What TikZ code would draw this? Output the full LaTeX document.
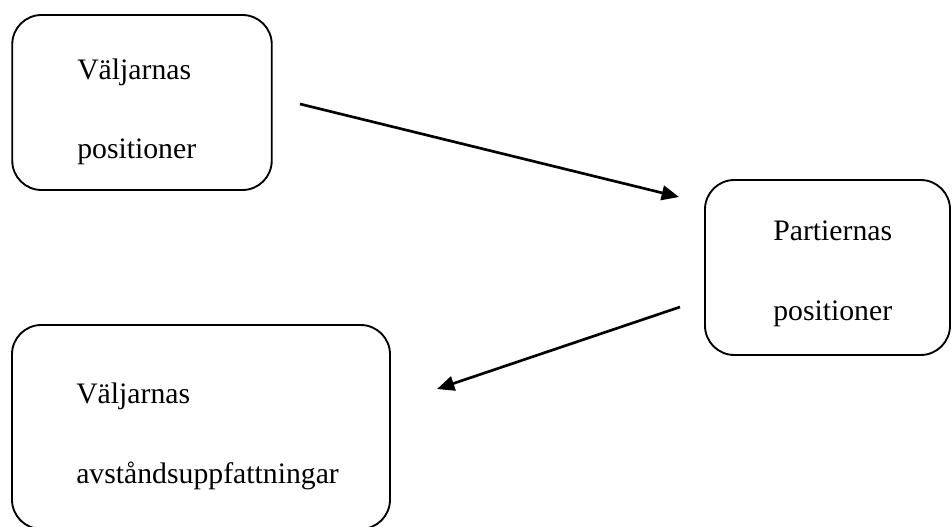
\documentclass[tikz,border=0pt]{standalone}
\usepackage{fontspec}
\setmainfont{Liberation Serif}
\usetikzlibrary{arrows.meta}
\begin{document}
\begin{tikzpicture}[x=0.75pt,y=-0.75pt,
  box/.style={draw,line width=1.4pt,rounded corners=22pt,inner sep=0pt},
  lbl/.style={anchor=base west,inner sep=0pt,font=\fontsize{22.3pt}{26pt}\selectfont},
  arr/.style={line width=2pt,-{Triangle[length=13pt,width=11pt]}}]
\useasboundingbox (0,0) rectangle (952,527);
\begin{scope}
\clip (0,0) rectangle (952,527);
\node[box,minimum width=259.5*0.75pt,minimum height=175*0.75pt] (b1) at (142,102.5) {};
\node[box,minimum width=245*0.75pt,minimum height=175*0.75pt] (b2) at (827.5,267.5) {};
\node[box,minimum width=378*0.75pt,minimum height=204*0.75pt] (b3) at (201,427) {};
\end{scope}
\node[lbl] (t1) at (77,80) {Väljarnas};
\node[lbl] (t2) at (77,159) {positioner};
\node[lbl] (t3) at (773,241) {Partiernas};
\node[lbl] (t4) at (773,320) {positioner};
\node[lbl] (t5) at (76,403) {Väljarnas};
\node[lbl] (t6) at (76,483) {avståndsuppfattningar};
\coordinate (a1s) at (300,104);
\coordinate (a1e) at (679,197);
\coordinate (a2s) at (680,307);
\coordinate (a2e) at (437,389);
\draw[arr] (a1s) -- (a1e);
\draw[arr] (a2s) -- (a2e);
\end{tikzpicture}
\end{document}
